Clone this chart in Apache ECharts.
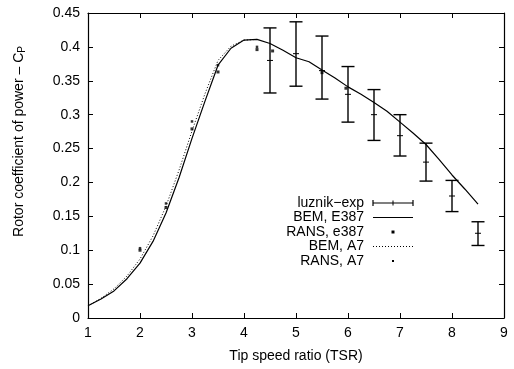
<!DOCTYPE html>
<html>
<head>
<meta charset="utf-8">
<script src="https://cdn.jsdelivr.net/npm/echarts@6/dist/echarts.min.js"></script>
<style>
  html, body { margin: 0; padding: 0; background: #fff; }
  #chart { width: 514px; height: 369px; }
</style>
</head>
<body>
<div id="chart"></div>
<script>
// BEM curves, sampled every 0.25 in TSR
const tsrGrid = [1.0, 1.25, 1.5, 1.75, 2.0, 2.25, 2.5, 2.75, 3.0, 3.25, 3.5, 3.75, 4.0, 4.25,
  4.5, 4.75, 5.0, 5.25, 5.5, 5.75, 6.0, 6.25, 6.5, 6.75, 7.0, 7.25, 7.5, 7.75, 8.0, 8.25, 8.5];
const bemE387 = [0.018, 0.028, 0.040, 0.058, 0.081, 0.113, 0.155, 0.207, 0.265, 0.320, 0.373, 0.398, 0.410, 0.411,
  0.405, 0.395, 0.384, 0.378, 0.366, 0.354, 0.341, 0.330, 0.318, 0.305, 0.289, 0.273, 0.256, 0.234, 0.211, 0.190, 0.168];
const bemA7 = [0.018, 0.029, 0.043, 0.062, 0.087, 0.121, 0.165, 0.218, 0.276, 0.331, 0.380, 0.401, 0.410, 0.411];

// RANS points
const ransE387X = [2.0, 2.5, 3.0, 3.5, 4.25, 4.55, 5.5, 5.96];
const ransE387Y = [0.100, 0.163, 0.279, 0.363, 0.396, 0.394, 0.362, 0.339];
const ransA7X = [2.0, 2.5, 3.0, 3.5, 4.25];
const ransA7Y = [0.103, 0.169, 0.290, 0.373, 0.400];

// luznik experiment with error bars
const expX = [4.5, 5.0, 5.5, 6.0, 6.5, 7.0, 7.5, 8.0, 8.5];
const expMean = [0.380, 0.390, 0.365, 0.330, 0.300, 0.269, 0.230, 0.180, 0.125];
const expLow = [0.332, 0.342, 0.323, 0.289, 0.262, 0.239, 0.202, 0.157, 0.107];
const expHigh = [0.428, 0.437, 0.416, 0.371, 0.337, 0.300, 0.258, 0.203, 0.142];

const legendNames = ['luznik\u2212exp', 'BEM, E387', 'RANS, e387', 'BEM, A7', 'RANS, A7'];

const FONT = 'Liberation Sans, Arial, sans-serif';

const chart = echarts.init(document.getElementById('chart'));

function pairs(xs, ys) {
  return ys.map((y, i) => [xs[i], y]);
}

function errorBar(params, api) {
  const x = api.value(0);
  const mid = api.coord([x, api.value(1)]);
  const lo = api.coord([x, api.value(2)]);
  const hi = api.coord([x, api.value(3)]);
  const cap = 6.5;
  const st = { stroke: '#000', lineWidth: 1.4 };
  return {
    type: 'group',
    children: [
      { type: 'line', shape: { x1: hi[0], y1: hi[1], x2: lo[0], y2: lo[1] }, style: st },
      { type: 'line', shape: { x1: hi[0] - cap, y1: hi[1], x2: hi[0] + cap, y2: hi[1] }, style: st },
      { type: 'line', shape: { x1: lo[0] - cap, y1: lo[1], x2: lo[0] + cap, y2: lo[1] }, style: st },
      { type: 'line', shape: { x1: mid[0] - 3, y1: mid[1], x2: mid[0] + 3, y2: mid[1] }, style: { stroke: '#000', lineWidth: 1 } }
    ]
  };
}

// legend drawn by hand (gnuplot style: text right-aligned, sample on right)
const legX = 364, legY = 203, legStep = 14.5, sx1 = 373, sx2 = 413;
const legendGraphics = [];
legendNames.forEach((name, i) => {
  legendGraphics.push({
    type: 'text', x: legX, y: legY + i * legStep,
    style: { text: name, align: 'right', verticalAlign: 'middle', font: '14px ' + FONT, fill: '#000' }
  });
});
const sm = (sx1 + sx2) / 2;
legendGraphics.push(
  { type: 'line', shape: { x1: sx1, y1: legY, x2: sx2, y2: legY }, style: { stroke: '#000', lineWidth: 1.2 } },
  { type: 'line', shape: { x1: sx1, y1: legY - 3, x2: sx1, y2: legY + 3 }, style: { stroke: '#000', lineWidth: 1.2 } },
  { type: 'line', shape: { x1: sx2, y1: legY - 3, x2: sx2, y2: legY + 3 }, style: { stroke: '#000', lineWidth: 1.2 } },
  { type: 'line', shape: { x1: sm, y1: legY - 2.5, x2: sm, y2: legY + 2.5 }, style: { stroke: '#000', lineWidth: 1 } },
  { type: 'line', shape: { x1: sx1, y1: legY + legStep, x2: sx2, y2: legY + legStep }, style: { stroke: '#000', lineWidth: 1.2 } },
  { type: 'rect', shape: { x: sm - 1.5, y: legY + 2 * legStep - 1.5, width: 3, height: 3 }, style: { fill: '#000' } },
  { type: 'line', shape: { x1: sx1, y1: legY + 3 * legStep, x2: sx2, y2: legY + 3 * legStep }, style: { stroke: '#000', lineWidth: 1, lineDash: [1, 2] } },
  { type: 'rect', shape: { x: sm - 1, y: legY + 4 * legStep - 1, width: 2, height: 2 }, style: { fill: '#000' } }
);

const tickStyle = { show: true, inside: true, length: 5, lineStyle: { color: '#000', width: 1 } };
const lineStyle = { show: true, onZero: false, lineStyle: { color: '#000', width: 1.2 } };

const option = {
  animation: false,
  backgroundColor: '#fff',
  grid: { left: 88, right: 10, top: 13, bottom: 51 },
  xAxis: [
    {
      type: 'value', min: 1, max: 9, interval: 1,
      name: 'Tip speed ratio (TSR)', nameLocation: 'middle', nameGap: 31,
      nameTextStyle: { fontFamily: FONT, fontSize: 14, color: '#000' },
      axisLine: lineStyle, axisTick: tickStyle,
      axisLabel: { fontFamily: FONT, fontSize: 14, color: '#000', margin: 8 },
      splitLine: { show: false }
    },
    {
      type: 'value', position: 'top', min: 1, max: 9, interval: 1,
      axisLine: lineStyle, axisTick: tickStyle, axisLabel: { show: false }, splitLine: { show: false }
    }
  ],
  yAxis: [
    {
      type: 'value', min: 0, max: 0.45, interval: 0.05,
      name: 'Rotor coefficient of power \u2013 C{sub|P}', nameLocation: 'middle', nameGap: 61,
      nameTextStyle: {
        fontFamily: FONT, fontSize: 14, color: '#000', padding: [0, 0, 0, 48],
        rich: { sub: { fontFamily: FONT, fontSize: 10, color: '#000', verticalAlign: 'bottom', padding: [6, 0, 0, 0] } }
      },
      axisLine: lineStyle, axisTick: tickStyle,
      axisLabel: { fontFamily: FONT, fontSize: 14, color: '#000', margin: 8 },
      splitLine: { show: false }
    },
    {
      type: 'value', position: 'right', min: 0, max: 0.45, interval: 0.05,
      axisLine: lineStyle, axisTick: tickStyle, axisLabel: { show: false }, splitLine: { show: false }
    }
  ],
  graphic: legendGraphics,
  series: [
    {
      name: legendNames[0], type: 'custom', renderItem: errorBar,
      encode: { x: 0, y: [1, 2, 3] },
      data: expX.map((x, i) => [x, expMean[i], expLow[i], expHigh[i]]),
      z: 5
    },
    {
      name: legendNames[1], type: 'line', symbol: 'none',
      lineStyle: { color: '#000', width: 1.2 },
      data: pairs(tsrGrid, bemE387)
    },
    {
      name: legendNames[2], type: 'scatter', symbol: 'rect', symbolSize: 3,
      itemStyle: { color: '#000' },
      data: pairs(ransE387X, ransE387Y)
    },
    {
      name: legendNames[3], type: 'line', symbol: 'none',
      lineStyle: { color: '#000', width: 1, type: [1, 2] },
      data: pairs(tsrGrid, bemA7)
    },
    {
      name: legendNames[4], type: 'scatter', symbol: 'rect', symbolSize: 2.5,
      itemStyle: { color: '#000' },
      data: pairs(ransA7X, ransA7Y)
    }
  ]
};

chart.setOption(option);
</script>
</body>
</html>
